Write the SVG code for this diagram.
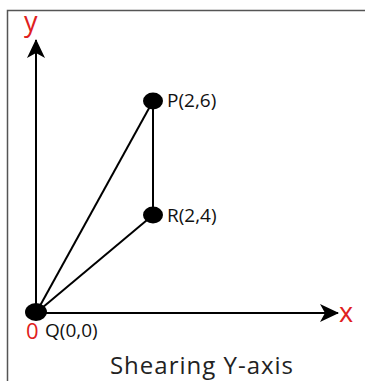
<svg xmlns="http://www.w3.org/2000/svg" width="365" height="381" viewBox="0 0 365 381">
<style>
.ln{stroke:#000;stroke-width:2;fill:none}
.lbl{font-family:"Open Sans",sans-serif;font-size:19px;fill:#111}
.red{font-family:"Open Sans",sans-serif;fill:#e02020}
.dot{fill:#000}
</style>
<defs>
<marker id="ah" markerWidth="20" markerHeight="20" refX="18" refY="9" orient="auto" markerUnits="userSpaceOnUse" viewBox="0 0 20 18">
<path d="M0,0 L19,9 L0,18 L5,9 Z" fill="#000"/>
</marker>
</defs>
<rect width="365" height="381" fill="#fff"/>
<path d="M7.5,381 V10.5 H365" stroke="#555" stroke-width="1.5" fill="none"/>
<g id="connectors">
<line class="ln" x1="36" y1="313" x2="36" y2="40" marker-end="url(#ah)"/>
<line class="ln" x1="36" y1="313" x2="338" y2="313" marker-end="url(#ah)"/>
<line class="ln" x1="36" y1="313" x2="153" y2="101"/>
<line class="ln" x1="36" y1="313" x2="153" y2="215"/>
<line class="ln" x1="153" y1="101" x2="153" y2="215"/>
</g>
<g id="axis-y"><text class="red" x="24" y="31" font-size="27">y</text></g>
<g id="axis-x"><text class="red" x="339" y="322" font-size="27">x</text></g>
<g id="P"><ellipse class="dot" cx="153" cy="101" rx="10" ry="8.5"/><text class="lbl" x="167" y="107">P(2,6)</text></g>
<g id="R"><ellipse class="dot" cx="153" cy="215" rx="10" ry="8.5"/><text class="lbl" x="167" y="222">R(2,4)</text></g>
<g id="Q"><ellipse class="dot" cx="36" cy="312" rx="11" ry="9"/><text class="red" x="26" y="339" font-size="22">0</text><text class="lbl" x="45" y="337">Q(0,0)</text></g>
<g id="title"><text x="202" y="374" text-anchor="middle" font-family="Open Sans, sans-serif" font-size="24" letter-spacing="1" fill="#222">Shearing Y-axis</text></g>
</svg>
